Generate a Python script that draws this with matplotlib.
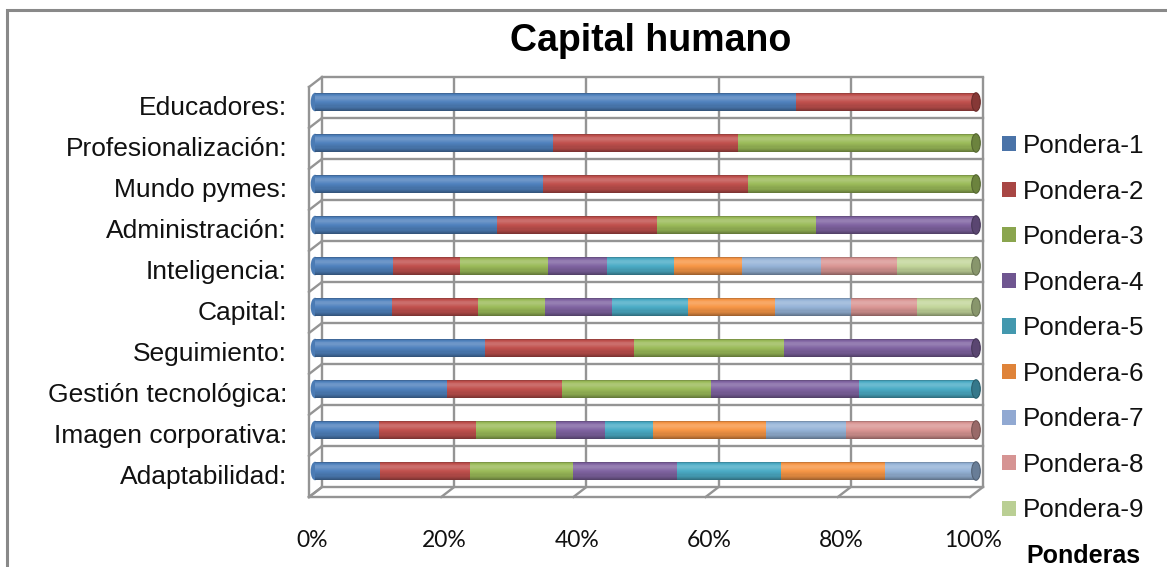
import numpy as np
import matplotlib
matplotlib.use("Agg")
import matplotlib.pyplot as plt
from matplotlib.patches import Rectangle, Ellipse, Patch
from matplotlib.transforms import ScaledTranslation
import matplotlib.colors as mcolors

# ---------------- data ----------------
categories = ["Educadores:", "Profesionalización:", "Mundo pymes:", "Administración:",
              "Inteligencia:", "Capital:", "Seguimiento:", "Gestión tecnológica:",
              "Imagen corporativa:", "Adaptabilidad:"]
series_names = ["Pondera-1", "Pondera-2", "Pondera-3", "Pondera-4", "Pondera-5",
                "Pondera-6", "Pondera-7", "Pondera-8", "Pondera-9"]
# percentage share of each series per category (rows follow `categories`)
pondera_1 = [72.7, 36.0, 34.5, 27.6, 11.8, 11.6, 25.7, 19.9, 9.7, 9.8]
pondera_2 = [27.3, 28.0, 31.0, 24.1, 10.2, 13.0, 22.6, 17.5, 14.7, 13.7]
pondera_3 = [0.0, 36.0, 34.5, 24.1, 13.3, 10.2, 22.6, 22.5, 12.1, 15.6]
pondera_4 = [0.0, 0.0, 0.0, 24.2, 8.8, 10.1, 29.1, 22.4, 7.4, 15.7]
pondera_5 = [0.0, 0.0, 0.0, 0.0, 10.2, 11.6, 0.0, 17.7, 7.2, 15.7]
pondera_6 = [0.0, 0.0, 0.0, 0.0, 10.3, 13.1, 0.0, 0.0, 17.2, 15.7]
pondera_7 = [0.0, 0.0, 0.0, 0.0, 11.9, 11.5, 0.0, 0.0, 12.0, 13.8]
pondera_8 = [0.0, 0.0, 0.0, 0.0, 11.6, 10.0, 0.0, 0.0, 19.7, 0.0]
pondera_9 = [0.0, 0.0, 0.0, 0.0, 11.9, 8.9, 0.0, 0.0, 0.0, 0.0]
x_ticks = [0, 20, 40, 60, 80, 100]
x_ticklabels = ["0%", "20%", "40%", "60%", "80%", "100%"]
title = "Capital humano"
depth_title = "Ponderas"

series = [pondera_1, pondera_2, pondera_3, pondera_4, pondera_5,
          pondera_6, pondera_7, pondera_8, pondera_9]
colors = ["#4F81BD", "#C0504D", "#9BBB59", "#8064A2", "#4BACC6",
          "#F79646", "#95B3D7", "#DA9694", "#C3D69B"]
legend_colors = ["#4A73A8", "#A84644", "#8AA54E", "#6F5690", "#4398AE",
                 "#DF8339", "#91A9D2", "#D69493", "#BACF94"]

# ---------------- figure ----------------
W, H = 1167, 567
fig = plt.figure(figsize=(W / 100, H / 100), dpi=100)
fig.patch.set_facecolor("white")

# outer chart border
fig.add_artist(Rectangle((7 / W, 0 - 0.05), 1.2, (H - 10) / H + 0.05,
                         transform=fig.transFigure, fill=False,
                         edgecolor="#898989", lw=2.2, clip_on=False))

# front plane of the 3D box
left_px, right_px, top_px, bottom_px = 309, 970, 87, 497
ax = fig.add_axes([left_px / W, (H - bottom_px) / H,
                   (right_px - left_px) / W, (bottom_px - top_px) / H])
n = len(categories)
ax.set_xlim(0, 100)
ax.set_ylim(n - 0.5, -0.5)
ax.axis("off")

back = ax.transData + ScaledTranslation(13 / 100, 10 / 100, fig.dpi_scale_trans)
mid = ax.transData + ScaledTranslation(6 / 100, 5.5 / 100, fig.dpi_scale_trans)

gc = "#949494"
glw = 1.7
# back wall vertical gridlines
for xv in x_ticks:
    ax.plot([xv, xv], [-0.5, n - 0.5], color=gc, lw=glw, transform=back,
            clip_on=False, zorder=1, solid_capstyle="butt")
# back wall horizontal lines (category boundaries)
for yb in np.arange(-0.5, n, 1.0):
    ax.plot([0, 100], [yb, yb], color=gc, lw=glw, transform=back,
            clip_on=False, zorder=1)
# left wall: front edge + diagonals
ax.plot([0, 0], [-0.5, n - 0.5], color=gc, lw=glw, clip_on=False, zorder=1)
for yb in np.arange(-0.5, n, 1.0):
    p0 = ax.transData.transform((0, yb))
    p1 = back.transform((0, yb))
    fig.add_artist(plt.Line2D([p0[0] / W, p1[0] / W], [p0[1] / H, p1[1] / H],
                              color=gc, lw=glw, zorder=1))
# floor: front edge + diagonals
ax.plot([0, 100], [n - 0.5, n - 0.5], color=gc, lw=glw, clip_on=False, zorder=1)
for xv in x_ticks:
    p0 = ax.transData.transform((xv, n - 0.5))
    p1 = back.transform((xv, n - 0.5))
    fig.add_artist(plt.Line2D([p0[0] / W, p1[0] / W], [p0[1] / H, p1[1] / H],
                              color=gc, lw=glw, zorder=1))

# ---------------- cylinder bars ----------------
bar_h = 0.45
nsl = 16
prof_t = [0.0, 0.08, 0.25, 0.5, 0.8, 1.0]
prof_f = [0.72, 0.95, 1.16, 1.0, 0.85, 0.62]


def shade(c, f):
    r = np.array(mcolors.to_rgb(c))
    if f >= 1:
        return tuple(np.clip(r + (1 - r) * (f - 1) * 1.2, 0, 1))
    return tuple(r * f)


ypos = np.arange(n)
lefts = np.zeros(n)
for s_vals, col in zip(series, colors):
    vals = np.array(s_vals, dtype=float)
    for k in range(nsl):
        t = (k + 0.5) / nsl
        f = np.interp(t, prof_t, prof_f)
        ax.barh(ypos - bar_h / 2 + k * bar_h / nsl, vals, height=bar_h / nsl * 1.02,
                left=lefts, align="edge", color=shade(col, f), lw=0,
                transform=mid, clip_on=False, zorder=3)
    lefts = lefts + vals

# rounded ends
totals = lefts
for i in range(n):
    row_vals = [s[i] for s in series]
    present = [c for v, c in zip(row_vals, colors) if v > 0]
    first, last = present[0], present[-1]
    ax.add_patch(Ellipse((0, i), 1.3, bar_h, facecolor=shade(first, 0.95),
                         lw=0, transform=mid, clip_on=False, zorder=2.9))
    ax.add_patch(Ellipse((totals[i], i), 1.3, bar_h, facecolor=shade(last, 0.7),
                         edgecolor=shade(last, 0.55), lw=0.8,
                         transform=mid, clip_on=False, zorder=3.5))

# ---------------- texts ----------------
for i, cat in enumerate(categories):
    ax.text(-22 / 6.61, i + 0.02, cat, ha="right", va="center",
            fontsize=19, family="Liberation Sans", color="#111111", clip_on=False)
for xv, lab in zip(x_ticks, x_ticklabels):
    ax.text(xv + 0.5, n - 0.5 + 1.07, lab, ha="center", va="center",
            fontsize=16.5, family="Lato", color="#111111", clip_on=False)

fig.text(651 / W, 1 - 41 / H, title, ha="center", va="center", fontsize=27,
         fontweight="bold", family="Liberation Sans", color="#000000")
fig.text(1083 / W, 1 - 556 / H, depth_title, ha="center", va="center", fontsize=18,
         fontweight="bold", family="Liberation Sans", color="#000000")

handles = [Patch(facecolor=c, edgecolor="none") for c in legend_colors]
leg = fig.legend(handles, series_names, loc="upper left",
                 bbox_to_anchor=(1002 / W, 1 - 134 / H), frameon=False,
                 prop={"family": "Liberation Sans", "size": 18.7},
                 handlelength=0.52, handleheight=0.52, handletextpad=0.27,
                 labelspacing=0.83, borderpad=0, borderaxespad=0)
for t in leg.get_texts():
    t.set_color("#111111")

fig.savefig("out.png", dpi=100, facecolor="white")
